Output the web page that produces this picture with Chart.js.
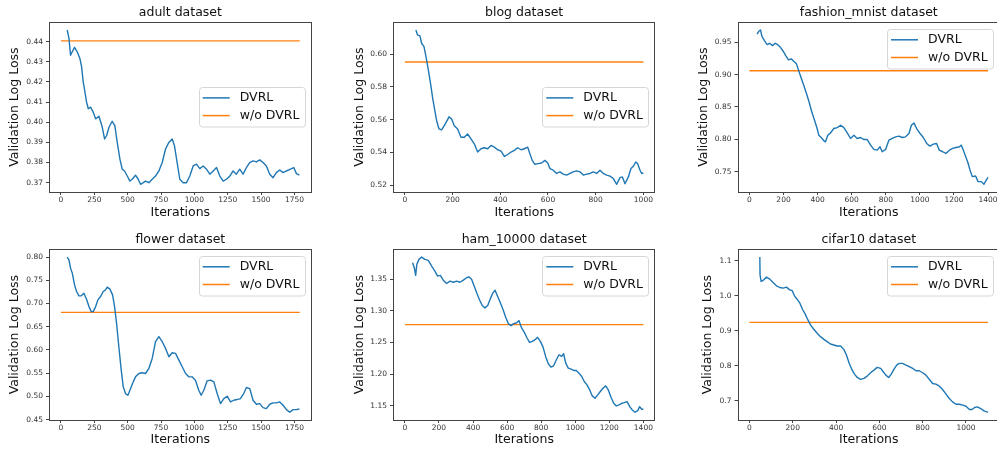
<!DOCTYPE html>
<html>
<head>
<meta charset="utf-8">
<script src="https://cdn.jsdelivr.net/npm/chart.js@4.4.1/dist/chart.umd.min.js"></script>
<style>
  body { margin: 0; background: #fff; overflow: hidden; width: 997px; height: 452px; position: relative; }
  canvas { position: absolute; }
</style>
</head>
<body>
<canvas id="c0"></canvas>
<canvas id="c1"></canvas>
<canvas id="c2"></canvas>
<canvas id="c3"></canvas>
<canvas id="c4"></canvas>
<canvas id="c5"></canvas>
<script>
// Data
const titles = ['adult dataset', 'blog dataset', 'fashion_mnist dataset', 'flower dataset', 'ham_10000 dataset', 'cifar10 dataset'];
const seriesLabels = ['DVRL', 'w/o DVRL'];

const adultIter = [47,60,72,85,102,122,142,155,167,180,192,205,222,242,260,285,310,327,342,360,384,404,422,442,459,477,497,517,534,559,579,597,617,634,659,684,709,734,759,784,809,834,851,871,891,916,941,966,991,1016,1041,1066,1091,1116,1141,1166,1191,1216,1241,1266,1290,1315,1340,1365,1390,1415,1440,1465,1490,1515,1540,1565,1590,1615,1640,1665,1690,1720,1745,1765,1787];
const adultLoss = [0.4458,0.4417,0.4333,0.435,0.4372,0.435,0.4317,0.4275,0.42,0.415,0.41,0.4067,0.4075,0.405,0.4017,0.403,0.3975,0.3917,0.3933,0.3975,0.4005,0.3983,0.39,0.3817,0.3767,0.3758,0.3733,0.3708,0.3717,0.3737,0.3717,0.3692,0.37,0.3708,0.37,0.3717,0.3733,0.3758,0.38,0.3867,0.39,0.3917,0.3883,0.38,0.3717,0.37,0.37,0.3733,0.3783,0.3792,0.377,0.3783,0.3767,0.3742,0.3758,0.3775,0.3733,0.3708,0.3717,0.3733,0.3758,0.3742,0.3767,0.3742,0.3775,0.38,0.3808,0.3803,0.3813,0.38,0.3783,0.3742,0.3725,0.375,0.3763,0.375,0.3758,0.3767,0.3775,0.3745,0.3737];

const blogIter = [46,53,63,70,80,88,98,108,116,123,133,143,154,165,175,185,196,207,221,235,249,263,277,291,305,319,333,347,361,375,389,403,417,431,445,459,473,487,501,515,524,534,545,559,573,587,599,608,622,636,650,664,678,692,706,720,734,748,762,776,790,804,818,832,846,860,874,888,902,912,923,937,948,958,968,976,986,993,1000];
const blogLoss = [0.6147,0.6117,0.6111,0.6066,0.6046,0.5986,0.5905,0.5815,0.5734,0.5674,0.5593,0.5543,0.5537,0.5563,0.5589,0.5617,0.5603,0.5563,0.5543,0.5492,0.5492,0.5512,0.5482,0.5452,0.5402,0.5422,0.5428,0.5422,0.5442,0.5432,0.5416,0.5408,0.5375,0.5387,0.5402,0.5412,0.5428,0.5416,0.5422,0.5432,0.5391,0.5351,0.5327,0.5331,0.5335,0.5351,0.5335,0.5301,0.5291,0.5271,0.5281,0.5267,0.5261,0.5271,0.5281,0.5287,0.5281,0.5261,0.5267,0.5271,0.5281,0.5271,0.5291,0.5271,0.5261,0.5255,0.524,0.5205,0.5246,0.525,0.5208,0.525,0.5301,0.5315,0.5341,0.5331,0.5291,0.5271,0.5275];

const fashionIter = [45,55,65,74,88,104,119,135,151,166,182,198,213,229,245,260,276,290,303,319,335,350,366,382,397,407,421,437,446,460,476,495,515,535,554,574,593,613,632,652,672,691,711,730,750,766,779,799,818,838,858,877,897,916,936,950,965,981,1001,1020,1040,1059,1079,1098,1114,1134,1153,1173,1192,1212,1232,1243,1255,1269,1282,1294,1308,1327,1341,1361,1376,1390,1400];
const fashionLoss = [0.9628,0.967,0.969,0.9587,0.9526,0.9464,0.9485,0.9449,0.9485,0.9464,0.9423,0.9362,0.9295,0.9228,0.9244,0.9208,0.9167,0.9054,0.8951,0.8833,0.8705,0.8577,0.8423,0.8295,0.8167,0.8064,0.8028,0.7977,0.7962,0.8064,0.81,0.8167,0.8182,0.8218,0.8182,0.81,0.8013,0.8064,0.8013,0.8028,0.7997,0.7997,0.791,0.7844,0.7833,0.7885,0.7808,0.7844,0.7987,0.8013,0.8038,0.8049,0.8028,0.8038,0.809,0.8218,0.8254,0.8167,0.809,0.8028,0.7936,0.7895,0.7926,0.7936,0.7833,0.7808,0.7782,0.7833,0.7859,0.7874,0.7885,0.791,0.7833,0.7731,0.7638,0.7526,0.7423,0.7433,0.7346,0.7346,0.7305,0.7372,0.7413];

const flowerIter = [47,60,72,85,102,117,135,152,172,192,210,227,242,260,277,297,317,334,347,367,387,402,417,434,452,467,484,502,522,542,559,584,609,634,659,684,709,734,759,784,809,834,859,884,909,934,958,983,1008,1033,1051,1071,1096,1121,1146,1171,1196,1221,1246,1271,1295,1320,1345,1370,1390,1415,1440,1465,1490,1515,1540,1565,1590,1615,1640,1665,1690,1715,1740,1765,1787];
const flowerLoss = [0.80,0.7942,0.7762,0.7654,0.7402,0.7258,0.7165,0.7165,0.7222,0.7093,0.6934,0.6826,0.6826,0.6934,0.7078,0.715,0.7258,0.7294,0.7352,0.7309,0.7186,0.6934,0.6574,0.607,0.5566,0.5206,0.5062,0.5026,0.517,0.5314,0.5422,0.5494,0.5509,0.5494,0.5602,0.5818,0.6178,0.6286,0.6178,0.6034,0.5854,0.5941,0.5926,0.5782,0.5638,0.5494,0.5422,0.5422,0.535,0.5134,0.5026,0.5134,0.5336,0.535,0.5314,0.5062,0.4846,0.4954,0.5005,0.4882,0.4918,0.4933,0.4954,0.5062,0.5192,0.517,0.4918,0.4832,0.4846,0.476,0.4738,0.4832,0.4861,0.4861,0.4882,0.481,0.4717,0.466,0.4717,0.4717,0.473];

const hamIter = [45,55,63,70,82,98,117,137,157,176,192,208,225,245,264,284,304,323,343,362,376,392,407,423,439,454,470,486,501,517,529,544,560,576,591,607,623,638,654,670,685,701,717,732,748,764,779,795,811,826,842,858,873,889,905,920,932,944,959,975,991,1006,1022,1038,1053,1069,1085,1100,1116,1132,1147,1163,1179,1194,1210,1226,1241,1257,1273,1288,1304,1320,1335,1351,1367,1378,1390,1400];
const hamLoss = [1.3765,1.3686,1.3564,1.3739,1.3818,1.3855,1.3818,1.3802,1.3712,1.3633,1.3553,1.3564,1.3489,1.3436,1.3473,1.3456,1.3473,1.3456,1.3489,1.3527,1.3542,1.35,1.3394,1.3277,1.3171,1.3086,1.3049,1.3086,1.3192,1.3288,1.333,1.3235,1.3129,1.3023,1.2906,1.28,1.2768,1.28,1.281,1.2847,1.2731,1.2662,1.2572,1.2503,1.2519,1.2545,1.2582,1.2519,1.2428,1.228,1.2163,1.211,1.2131,1.2227,1.2306,1.228,1.2322,1.2174,1.2094,1.2078,1.2057,1.2057,1.2015,1.1962,1.1882,1.1829,1.1749,1.1654,1.1617,1.167,1.1723,1.1776,1.1813,1.1749,1.1633,1.1537,1.1495,1.1511,1.1537,1.1548,1.1564,1.1484,1.1431,1.1395,1.142,1.1484,1.1442,1.1442];

const cifarIter = [48,49,54,63,69,79,94,109,125,140,156,171,186,197,208,220,233,245,257,270,282,297,313,328,344,359,374,390,405,421,436,448,461,473,485,498,513,529,544,559,575,590,606,618,630,643,655,667,680,692,707,723,738,754,769,784,800,815,831,846,861,877,892,908,923,938,954,969,985,1000,1016,1028,1040,1053,1068,1083,1096,1102];
const cifarLoss = [1.1105,1.0599,1.0408,1.0437,1.0475,1.0532,1.0475,1.0379,1.0284,1.0236,1.0217,1.0246,1.0169,1.015,0.9998,0.9902,0.9788,0.9616,0.9482,0.931,0.9167,0.9043,0.8928,0.8833,0.8756,0.869,0.8623,0.8594,0.8566,0.8566,0.847,0.8308,0.8069,0.7897,0.7764,0.7668,0.7611,0.764,0.7706,0.7802,0.7878,0.7955,0.7926,0.783,0.7735,0.7668,0.7764,0.7897,0.8021,0.8069,0.8069,0.8021,0.7974,0.7926,0.7859,0.7859,0.7802,0.7735,0.7611,0.7496,0.7477,0.742,0.7324,0.7191,0.7067,0.6971,0.6904,0.6904,0.6876,0.6847,0.6752,0.6752,0.6809,0.6828,0.6781,0.6714,0.6685,0.6675];

// w/o DVRL baseline (flat line from 0 to the last iteration)
const baseLoss = [0.4404, 0.5952, 0.906, 0.681, 1.2784, 0.924];
const lastIter = [1790, 1000, 1400, 1790, 1400, 1102];

// tick labels
const xTicks1750 = [0, 250, 500, 750, 1000, 1250, 1500, 1750];
const xTicks1000 = [0, 200, 400, 600, 800, 1000];
const xTicks1400 = [0, 200, 400, 600, 800, 1000, 1200, 1400];
const adultYTicks = [0.37, 0.38, 0.39, 0.40, 0.41, 0.42, 0.43, 0.44];
const blogYTicks = [0.52, 0.54, 0.56, 0.58, 0.60];
const fashionYTicks = [0.75, 0.80, 0.85, 0.90, 0.95];
const flowerYTicks = [0.45, 0.50, 0.55, 0.60, 0.65, 0.70, 0.75, 0.80];
const hamYTicks = [1.15, 1.20, 1.25, 1.30, 1.35];
const cifarYTicks = [0.7, 0.8, 0.9, 1.0, 1.1];

const series = [
    { iter: adultIter, loss: adultLoss, xt: xTicks1750, yt: adultYTicks, dec: 2 },
    { iter: blogIter, loss: blogLoss, xt: xTicks1000, yt: blogYTicks, dec: 2 },
    { iter: fashionIter, loss: fashionLoss, xt: xTicks1400, yt: fashionYTicks, dec: 2 },
    { iter: flowerIter, loss: flowerLoss, xt: xTicks1750, yt: flowerYTicks, dec: 2 },
    { iter: hamIter, loss: hamLoss, xt: xTicks1400, yt: hamYTicks, dec: 2 },
    { iter: cifarIter, loss: cifarLoss, xt: xTicks1000, yt: cifarYTicks, dec: 1 }
];

// Panel geometry
const cols = [
    { left: 0, w: 332, yAxisW: 49, padR: 20.3 },
    { left: 332, w: 332, yAxisW: 61, padR: 8.7 },
    { left: 664, w: 336, yAxisW: 73.5, padR: 0 }
];
const rows = [
    { top: 0, h: 226, titlePad: { top: 4.8, bottom: 2.5 }, xAxisH: 34, xTitlePad: 5.7 },
    { top: 226, h: 226, titlePad: { top: 6.7, bottom: 1.6 }, xAxisH: 32, xTitlePad: 4.3 }
];
const yTitlePads = [6.8, 20.2, 32.2, 6.8, 20.2, 36.2];
const legendSpots = ['right', 'right', 'upper', 'upper', 'upper', 'upper'];

const FONT = '"DejaVu Sans", sans-serif';
const BLUE = '#1f77b4';
const ORANGE = '#ff7f0e';
const TEXT = '#111';

// frame + matplotlib-like legend inside the axes
const frameLegend = {
    id: 'frameLegend',
    afterDraw(chart, args, opts) {
        const { ctx, chartArea: a } = chart;
        ctx.save();
        ctx.strokeStyle = '#444';
        ctx.lineWidth = 1;
        ctx.strokeRect(Math.round(a.left) + 0.5, Math.round(a.top) + 0.5,
            Math.round(a.right - a.left) - 1, Math.round(a.bottom - a.top));

        const w = 106, h = 39.5;
        const x = a.right - 7 - w;
        const y = opts.where === 'right' ? (a.top + a.bottom) / 2 - h / 2 : a.top + 7;
        ctx.fillStyle = 'rgba(255,255,255,0.8)';
        ctx.strokeStyle = '#d6d6d6';
        ctx.beginPath();
        ctx.roundRect(Math.round(x) + 0.5, Math.round(y) + 0.5, w, h, 3);
        ctx.fill();
        ctx.stroke();
        chart.data.datasets.forEach((ds, i) => {
            const ly = y + 10.5 + i * 17.7;
            ctx.strokeStyle = ds.borderColor;
            ctx.lineWidth = 1.5;
            ctx.beginPath();
            ctx.moveTo(x + 4, ly);
            ctx.lineTo(x + 31, ly);
            ctx.stroke();
            ctx.fillStyle = TEXT;
            ctx.font = '12.5px ' + FONT;
            ctx.textBaseline = 'middle';
            ctx.fillText(ds.label, x + 41, ly);
        });
        ctx.restore();
    }
};

function drawPanel(i) {
    const s = series[i];
    const col = cols[i % 3], row = rows[Math.floor(i / 3)];
    const cv = document.getElementById('c' + i);
    cv.width = col.w;
    cv.height = row.h;
    cv.style.left = col.left + 'px';
    cv.style.top = row.top + 'px';

    const ys = s.loss.concat([baseLoss[i]]);
    const yLo = Math.min(...ys), yHi = Math.max(...ys);
    const yPad = (yHi - yLo) * 0.05;
    const xPad = lastIter[i] * 0.05;

    const tickFont = { family: FONT, size: 7.5 };
    const labelFont = { family: FONT, size: 12.5, lineHeight: 1.2 };

    new Chart(cv, {
        type: 'line',
        data: {
            datasets: [{
                label: seriesLabels[0],
                data: s.iter.map((x, k) => ({ x: x, y: s.loss[k] })),
                borderColor: BLUE,
                borderWidth: 1.4,
                borderJoinStyle: 'round',
                pointRadius: 0,
                tension: 0
            }, {
                label: seriesLabels[1],
                data: [{ x: 0, y: baseLoss[i] }, { x: lastIter[i], y: baseLoss[i] }],
                borderColor: ORANGE,
                borderWidth: 1.4,
                pointRadius: 0
            }]
        },
        options: {
            responsive: false,
            animation: false,
            events: [],
            layout: { padding: { left: 0, right: col.padR, top: 0, bottom: 0 } },
            plugins: {
                legend: { display: false },
                tooltip: { enabled: false },
                title: {
                    display: true,
                    text: titles[i],
                    fullSize: false,
                    color: TEXT,
                    font: { family: FONT, size: 12.5, weight: 'normal', lineHeight: 1.2 },
                    padding: row.titlePad
                },
                frameLegend: { where: legendSpots[i] }
            },
            scales: {
                x: {
                    type: 'linear',
                    min: -xPad,
                    max: lastIter[i] + xPad,
                    afterBuildTicks: sc => { sc.ticks = s.xt.map(v => ({ value: v })); },
                    afterFit: sc => { sc.height = row.xAxisH; },
                    grid: { display: true, drawOnChartArea: false, drawTicks: true, tickLength: 3, tickColor: '#444' },
                    border: { display: false },
                    ticks: { font: tickFont, color: '#333', padding: 1, maxRotation: 0, autoSkip: false, callback: v => String(v) },
                    title: { display: true, text: 'Iterations', color: TEXT, font: labelFont, padding: { top: 0, bottom: row.xTitlePad } }
                },
                y: {
                    type: 'linear',
                    min: yLo - yPad,
                    max: yHi + yPad,
                    afterBuildTicks: sc => { sc.ticks = s.yt.map(v => ({ value: v })); },
                    afterFit: sc => { sc.width = col.yAxisW; },
                    grid: { display: true, drawOnChartArea: false, drawTicks: true, tickLength: 3, tickColor: '#444' },
                    border: { display: false },
                    ticks: { font: tickFont, color: '#333', padding: 3, autoSkip: false, callback: v => v.toFixed(s.dec) },
                    title: { display: true, text: 'Validation Log Loss', color: TEXT, font: labelFont, padding: { top: yTitlePads[i], bottom: 0 } }
                }
            }
        },
        plugins: [frameLegend]
    });
}

for (let i = 0; i < 6; i++) drawPanel(i);
</script>
</body>
</html>
